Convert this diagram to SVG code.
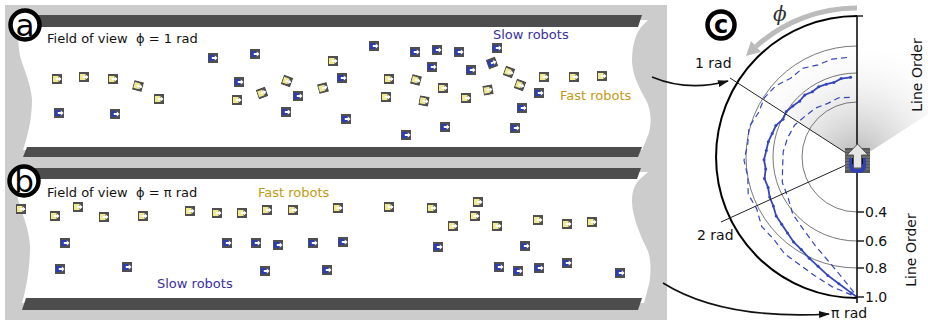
<svg xmlns="http://www.w3.org/2000/svg" width="928" height="323" viewBox="0 0 928 323">
<style>
  .lbl { font-family: "DejaVu Sans", "Liberation Sans", sans-serif; font-size: 13px; fill: #111; }
  .slow { fill: #3a2f9c; }
  .fast { fill: #c29a12; }
  .plbl { font-family: "DejaVu Sans", "Liberation Sans", sans-serif; font-size: 14px; fill: #111; }
  .bar { fill: #4d4d4d; }
  .badge { fill: #fff; stroke: #000; stroke-width: 4.5; }
  .badge-t { font-family: "DejaVu Sans", "Liberation Sans", sans-serif; fill: #000; text-anchor: middle; }
  .ring { fill: none; stroke: #555; stroke-width: 0.8; }
  .curve { fill: none; stroke: #3546bd; }
  .conn { fill: none; stroke: #111; stroke-width: 1.6; }
</style>
<defs>
  <symbol id="rf" viewBox="0 0 10 10" width="10" height="10">
    <rect width="10" height="10" fill="#4f4f4f"/>
    <rect x="1" y="2" width="5.5" height="6" fill="#f1e98c"/>
    <path d="M3.8 4.1H6.8V2.4L9.6 5L6.8 7.6V5.9H3.8Z" fill="#fff"/>
  </symbol>
  <symbol id="rs" viewBox="0 0 10 10" width="10" height="10">
    <rect width="10" height="10" fill="#4f4f4f"/>
    <rect x="1" y="2" width="5.5" height="6" fill="#2a3db2"/>
    <path d="M3.8 4.1H6.8V2.4L9.6 5L6.8 7.6V5.9H3.8Z" fill="#fff"/>
  </symbol>
  <radialGradient id="fov" gradientUnits="userSpaceOnUse" cx="857" cy="160" r="125">
    <stop offset="0" stop-color="#b5b5b5"/>
    <stop offset="1" stop-color="#ffffff" stop-opacity="0"/>
  </radialGradient>
  <marker id="ah" markerUnits="userSpaceOnUse" markerWidth="11" markerHeight="8" refX="10" refY="4" orient="auto">
    <path d="M0,0.5 L11,4 L0,7.5 Z" fill="#111"/>
  </marker>
  <marker id="dot" markerUnits="userSpaceOnUse" markerWidth="4" markerHeight="4" refX="2" refY="2">
    <circle cx="2" cy="2" r="1.5" fill="#3546bd"/>
  </marker>
</defs>

<!-- corridor background -->
<rect x="5" y="5" width="662" height="315" fill="#cccccc"/>

<g id="panel-a">
  <path d="M16,20 H648 L641,27 C635,35 632,47 632,60 C632,73 638,86 646,100 C652,111 652,128 647,138 L642,150 H23 C27,138 32,120 32,100 C31,84 24,70 20,56 C18,45 18,35 18,27 Z" fill="#fff"/>
  <g id="robots-a-fast">
    <use href="#rf" x="52" y="74"/><use href="#rf" x="79" y="72"/><use href="#rf" x="108" y="74"/>
    <use href="#rf" x="133" y="81" transform="rotate(15 138 86)"/><use href="#rf" x="154" y="94"/>
    <use href="#rf" x="232" y="95"/><use href="#rf" x="257" y="88" transform="rotate(-20 262 93)"/>
    <use href="#rf" x="282" y="76" transform="rotate(20 287 81)"/><use href="#rf" x="318" y="83" transform="rotate(-15 323 88)"/>
    <use href="#rf" x="328" y="56"/><use href="#rf" x="384" y="74"/><use href="#rf" x="411" y="75" transform="rotate(15 416 80)"/>
    <use href="#rf" x="438" y="83"/><use href="#rf" x="381" y="92"/><use href="#rf" x="419" y="96" transform="rotate(10 424 101)"/>
    <use href="#rf" x="461" y="93"/><use href="#rf" x="483" y="85" transform="rotate(-10 488 90)"/>
    <use href="#rf" x="504" y="67" transform="rotate(20 509 72)"/><use href="#rf" x="515" y="80" transform="rotate(20 520 85)"/>
    <use href="#rf" x="539" y="72"/><use href="#rf" x="569" y="72"/><use href="#rf" x="597" y="71"/>
  </g>
  <g id="robots-a-slow">
    <use href="#rs" x="208" y="53"/><use href="#rs" x="250" y="49"/><use href="#rs" x="234" y="77"/>
    <use href="#rs" x="293" y="91"/><use href="#rs" x="281" y="107"/><use href="#rs" x="54" y="108"/>
    <use href="#rs" x="110" y="109"/><use href="#rs" x="369" y="41"/><use href="#rs" x="410" y="47"/>
    <use href="#rs" x="432" y="45"/><use href="#rs" x="454" y="47"/><use href="#rs" x="492" y="43"/>
    <use href="#rs" x="427" y="62"/><use href="#rs" x="466" y="65"/><use href="#rs" x="487" y="58" transform="rotate(-20 492 63)"/>
    <use href="#rs" x="337" y="73"/><use href="#rs" x="534" y="88"/><use href="#rs" x="517" y="103"/>
    <use href="#rs" x="341" y="114"/><use href="#rs" x="440" y="122"/><use href="#rs" x="401" y="130"/>
    <use href="#rs" x="510" y="123"/>
  </g>
  <polygon class="bar" points="24,15 642,15 638,27 20,27"/>
  <polygon class="bar" points="27,147 642,147 638,157 23,157"/>
  <text class="lbl" x="47" y="43" xml:space="preserve">Field of view  ϕ = 1 rad</text>
  <text class="lbl slow" x="493" y="39">Slow robots</text>
  <text class="lbl fast" x="560" y="100">Fast robots</text>
  <circle class="badge" cx="25" cy="25" r="14.5"/>
  <text class="badge-t" x="25" y="36" font-size="31">a</text>
</g>

<g id="panel-b">
  <path d="M16,172 H648 L640,179 C634,185 632,192 632,201 C632,216 640,235 647,249 C652,259 651,279 648,288 L644,303 H22 C26,290 30,268 30,246 C29,226 20,210 17,195 C16,186 17,181 18,179 Z" fill="#fff"/>
  <g id="robots-b-fast">
    <use href="#rf" x="16" y="204"/><use href="#rf" x="50" y="211"/><use href="#rf" x="73" y="202"/>
    <use href="#rf" x="99" y="212"/><use href="#rf" x="138" y="211"/><use href="#rf" x="185" y="206"/>
    <use href="#rf" x="212" y="208"/><use href="#rf" x="237" y="208"/><use href="#rf" x="262" y="205"/>
    <use href="#rf" x="288" y="205"/><use href="#rf" x="333" y="203"/><use href="#rf" x="384" y="202"/>
    <use href="#rf" x="427" y="203"/><use href="#rf" x="473" y="197"/><use href="#rf" x="470" y="211"/>
    <use href="#rf" x="448" y="221"/><use href="#rf" x="492" y="221"/><use href="#rf" x="533" y="215"/>
    <use href="#rf" x="562" y="219"/><use href="#rf" x="587" y="217"/>
  </g>
  <g id="robots-b-slow">
    <use href="#rs" x="60" y="238"/><use href="#rs" x="55" y="264"/><use href="#rs" x="122" y="262"/>
    <use href="#rs" x="222" y="238"/><use href="#rs" x="251" y="238"/><use href="#rs" x="273" y="240"/>
    <use href="#rs" x="308" y="238"/><use href="#rs" x="260" y="266"/><use href="#rs" x="338" y="237"/>
    <use href="#rs" x="433" y="242"/><use href="#rs" x="520" y="241"/><use href="#rs" x="322" y="265"/>
    <use href="#rs" x="494" y="262"/><use href="#rs" x="513" y="266"/><use href="#rs" x="534" y="263"/>
    <use href="#rs" x="562" y="258"/><use href="#rs" x="615" y="268"/>
  </g>
  <polygon class="bar" points="24,168 641,168 637,179 20,179"/>
  <polygon class="bar" points="26,298 642,298 638,310 22,310"/>
  <text class="lbl" x="47" y="197" xml:space="preserve">Field of view  ϕ = π rad</text>
  <text class="lbl fast" x="258" y="197">Fast robots</text>
  <text class="lbl slow" x="157" y="288">Slow robots</text>
  <circle class="badge" cx="24" cy="181" r="14.5"/>
  <text class="badge-t" x="24" y="192" font-size="31">b</text>
</g>

<g id="panel-c">
  <!-- field-of-view cone, half-angle 1 rad -->
  <polygon points="857,160 689,52 1025,52" fill="url(#fov)"/>
  <!-- order rings 0.4 / 0.6 / 0.8 -->
  <path class="ring" d="M857,102 A55,55 0 0 0 857,212"/>
  <path class="ring" d="M857,73 A84,84 0 0 0 857,241"/>
  <path class="ring" d="M857,46 A111,111 0 0 0 857,268"/>
  <!-- measured order vs. field of view -->
  <polyline class="curve" stroke-width="1.2" stroke-dasharray="6,4" points="847,57.5 832,59.1 818.1,64.9 802.6,68.3 790.7,78.2 775.9,85.7 764.5,97.6 758.4,112.8 749,127.1 747.8,143.7 744,160.3 747.8,176.8 748.2,194.1 756.8,209.1 761.7,226.5 773.8,239.3 784.6,253.9 799.4,264.6 814.8,275.7 831.9,286.6 851.3,294.9 856.5,297"/>
  <polyline class="curve" stroke-width="1.2" stroke-dasharray="6,4" points="849.8,97.4 838.6,97.8 827.8,103.4 815.8,108 805.3,116 794.6,125.2 787.6,137.8 783.2,151.8 782.6,166.7 782.3,182.5 788,197.4 792.8,214.3 803.2,229.1 815.2,245.6 830.7,263.8 845.5,281.8 856.8,296"/>
  <polyline class="curve" stroke-width="1.8" marker-start="url(#dot)" marker-mid="url(#dot)" points="850.6,77.3 841.1,78.6 833.9,82.5 826.3,84.2 818.7,86.8 812.4,91.8 804.8,95 799.6,101.2 792.8,106 786.3,111.6 783,119.3 775.9,125.5 772.2,133.5 768.3,141.7 766.3,150.6 764,159.7 765.7,168.9 764.5,178.6 768.1,187.4 769.7,197 773.3,206 776.2,215.9 781.7,224.3 787.5,232.9 793.6,241.9 801.3,249.6 809.2,258.2 818.1,266.3 827.8,275.4 838.9,283.7 851.3,292.9 856.8,297"/>
  <!-- outer boundary and radial axis -->
  <path d="M857,16 A141,141 0 0 0 857,298" fill="none" stroke="#000" stroke-width="2"/>
  <line x1="857" y1="16" x2="857" y2="303" stroke="#111" stroke-width="1.6"/>
  <g stroke="#111" stroke-width="1.4">
    <line x1="857" y1="16" x2="863" y2="16"/>
    <line x1="857" y1="212" x2="864" y2="212"/>
    <line x1="857" y1="241" x2="864" y2="241"/>
    <line x1="857" y1="268" x2="864" y2="268"/>
    <line x1="857" y1="297" x2="864" y2="297"/>
  </g>
  <line x1="857" y1="160" x2="730" y2="78" stroke="#222" stroke-width="1"/>
  <line x1="857" y1="160" x2="721" y2="222" stroke="#222" stroke-width="1"/>
  <g id="robot-c">
    <rect x="845" y="148" width="25" height="25" fill="#575757"/>
    <g stroke="#8a8a8a" stroke-width="0.8">
      <line x1="845" y1="151" x2="870" y2="151"/><line x1="845" y1="154" x2="870" y2="154"/>
      <line x1="845" y1="157" x2="870" y2="157"/><line x1="845" y1="160" x2="870" y2="160"/>
      <line x1="845" y1="163" x2="870" y2="163"/><line x1="845" y1="166" x2="870" y2="166"/>
      <line x1="845" y1="169" x2="870" y2="169"/>
    </g>
    <path d="M851,158 V166 Q851,171 857.5,171 Q864,171 864,166 V158" fill="none" stroke="#2e40b4" stroke-width="4"/>
    <rect x="852" y="158" width="2" height="6" fill="#111"/>
    <rect x="861" y="158" width="2" height="6" fill="#111"/>
    <polygon points="857.5,144 868,155 861.5,155 861.5,168 853.5,168 853.5,155 847,155" fill="#e6e6e6" stroke="#555" stroke-width="1"/>
  </g>
  <!-- rotation sense of phi -->
  <path d="M857,8 A150,150 0 0 0 756,46.5" fill="none" stroke="#bbbbbb" stroke-width="5"/>
  <polygon points="751,41 761,52 746,56" fill="#bbbbbb"/>
  <text x="773" y="21" font-family="DejaVu Serif, Liberation Serif, serif" font-style="italic" font-size="20" fill="#333">ϕ</text>
  <text class="plbl" x="695" y="68">1 rad</text>
  <text class="plbl" x="697" y="240">2 rad</text>
  <text class="plbl" x="831" y="318">π rad</text>
  <text class="plbl" x="865" y="217">0.4</text>
  <text class="plbl" x="865" y="246">0.6</text>
  <text class="plbl" x="865" y="273">0.8</text>
  <text class="plbl" x="865" y="302">1.0</text>
  <text class="plbl" transform="translate(922,75) rotate(-90)" text-anchor="middle">Line Order</text>
  <text class="plbl" transform="translate(916,250) rotate(-90)" text-anchor="middle">Line Order</text>
  <circle class="badge" cx="721" cy="25" r="13.5" stroke-width="4"/>
  <text class="badge-t" x="721" y="33" font-size="24" font-weight="bold">c</text>
</g>

<g id="connectors">
  <path class="conn" d="M652,77 Q688,92 728,81" marker-end="url(#ah)"/>
  <path class="conn" d="M663,283 Q722,320 829,314" marker-end="url(#ah)"/>
</g>
</svg>
